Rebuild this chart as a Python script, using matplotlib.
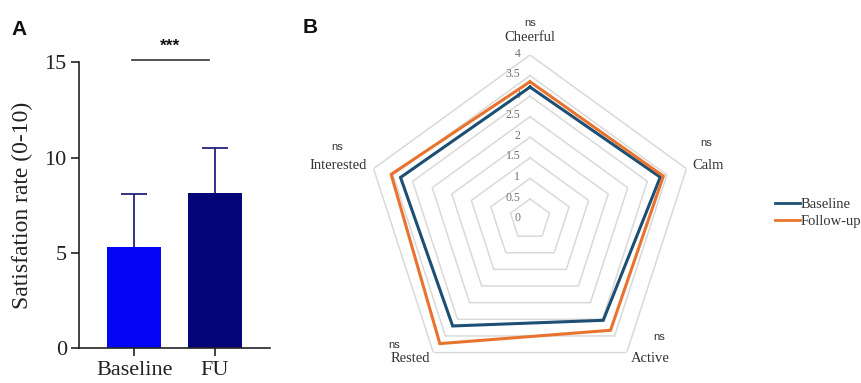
import numpy as np
import matplotlib
matplotlib.use("Agg")
import matplotlib.pyplot as plt
from matplotlib.lines import Line2D

# ---- Panel A: satisfaction rate ----
groups = ["Baseline", "FU"]
sat_mean = [5.3, 8.15]
sat_sd = [2.78, 2.35]
bar_colors = ["#0505F5", "#05057A"]
y_ticks = [0, 5, 10, 15]

# ---- Panel B: mood profile ----
moods = ["Cheerful", "Calm", "Active", "Rested", "Interested"]
baseline_scores = [3.22, 3.33, 3.03, 3.20, 3.31]
followup_scores = [3.35, 3.41, 3.33, 3.73, 3.55]
ring_levels = [0, 0.5, 1, 1.5, 2, 2.5, 3, 3.5, 4]
ring_labels = ["0", "0.5", "1", "1.5", "2", "2.5", "3", "3.5", "4"]
series_names = ["Baseline", "Follow-up"]
series_colors = ["#1C4F73", "#E8732E"]

serif = "Liberation Serif"
sans = "Liberation Sans"

fig = plt.figure(figsize=(8.62, 3.83), dpi=100)

# ------------------------------------------------------------------ A
ax = fig.add_axes([0.092, 0.0906, 0.2212, 0.7467])
x = np.arange(len(groups))
ax.bar(x, sat_mean, width=0.67, color=bar_colors, zorder=2)
_, caps, _ = ax.errorbar(x, sat_mean, yerr=[[0] * len(sat_sd), sat_sd],
                         fmt="none", ecolor="#23237A", elinewidth=1.3,
                         capsize=9.5, capthick=1.3, zorder=1)
# one-sided bars: keep only the upper caps
caps[0].remove()
ax.set_xlim(-0.68, 1.68)
ax.set_ylim(0, 15)
ax.set_yticks(y_ticks)
ax.set_xticks(x)
ax.set_xticklabels(groups)
for lbl in ax.get_xticklabels() + ax.get_yticklabels():
    lbl.set_fontfamily(serif)
    lbl.set_fontsize(16)
    lbl.set_color("#222222")
ax.tick_params(axis="both", direction="out", length=6, width=1.2,
               color="#222222", pad=3)
for side in ("top", "right"):
    ax.spines[side].set_visible(False)
for side in ("left", "bottom"):
    ax.spines[side].set_linewidth(1.2)
    ax.spines[side].set_color("#222222")
ax.set_ylabel("Satisfation rate (0-10)", fontfamily=serif, fontsize=17,
              color="#222222", labelpad=8)

# significance bracket
ax.plot([-0.03, 0.92], [15.12, 15.12], color="#333333", lw=1.2,
        clip_on=False)
ax.text(0.44, 15.45, "***", ha="center", va="bottom", fontfamily=sans,
        fontweight="bold", fontsize=12.5, color="#111111")

fig.text(0.013, 0.908, "A", fontfamily=sans, fontweight="bold",
         fontsize=15, color="#111111")
fig.text(0.351, 0.913, "B", fontfamily=sans, fontweight="bold",
         fontsize=15, color="#111111")

# ------------------------------------------------------------------ B
rx = fig.add_axes([0.424, -0.0026, 0.3817, 0.859], projection="polar")
rx.set_theta_zero_location("N")
rx.set_theta_direction(-1)
rx.set_ylim(0, 4)
rx.grid(False)
rx.set_xticks([])
rx.set_yticks([])
rx.spines["polar"].set_visible(False)
rx.patch.set_alpha(0)

n = len(moods)
theta = np.linspace(0, 2 * np.pi, n, endpoint=False)
theta_c = np.append(theta, theta[0])

for lev in ring_levels[1:]:
    rx.plot(theta_c, [lev] * (n + 1), color="#D9D9D9", lw=1.1, zorder=1)

for lev, txt in zip(ring_levels, ring_labels):
    rx.annotate(txt, xy=(0, lev), xytext=(-7, 1), textcoords="offset points",
                ha="right", va="center", fontfamily=serif, fontsize=8.5,
                color="#707070", zorder=2)

for vals, col in zip([baseline_scores, followup_scores], series_colors):
    v = np.append(vals, vals[0])
    rx.plot(theta_c, v, color=col, lw=2.2, zorder=3,
            solid_joinstyle="miter")

# mood labels and test annotations
label_pos = {
    "Cheerful": (530, 37.3),
    "Calm": (708, 165.7),
    "Active": (650, 358.3),
    "Rested": (410, 358.3),
    "Interested": (337.7, 165.7),
}
ns_pos = {
    "Cheerful": (530, 22.7),
    "Calm": (705.7, 142.7),
    "Active": (659.3, 336.7),
    "Rested": (394, 345),
    "Interested": (336.7, 147.3),
}
W, H = 862.0, 383.0
for m in moods:
    lx, ly = label_pos[m]
    fig.text(lx / W, 1 - ly / H, m, ha="center", va="center",
             fontfamily=serif, fontsize=10.5, color="#333333")
    nx, ny = ns_pos[m]
    fig.text(nx / W, 1 - ny / H, "ns", ha="center", va="center",
             fontfamily=sans, fontsize=8, color="#333333")

# legend
handles = [Line2D([], [], color=c, lw=2.0) for c in series_colors]
leg = fig.legend(handles, series_names, loc="center left",
                 bbox_to_anchor=(0.892, 0.444), frameon=False,
                 handlelength=1.7, handletextpad=0.1, labelspacing=0.25,
                 borderaxespad=0, prop={"family": serif, "size": 10.5})
for t in leg.get_texts():
    t.set_color("#333333")

fig.savefig("out.png", dpi=100, facecolor="white")
